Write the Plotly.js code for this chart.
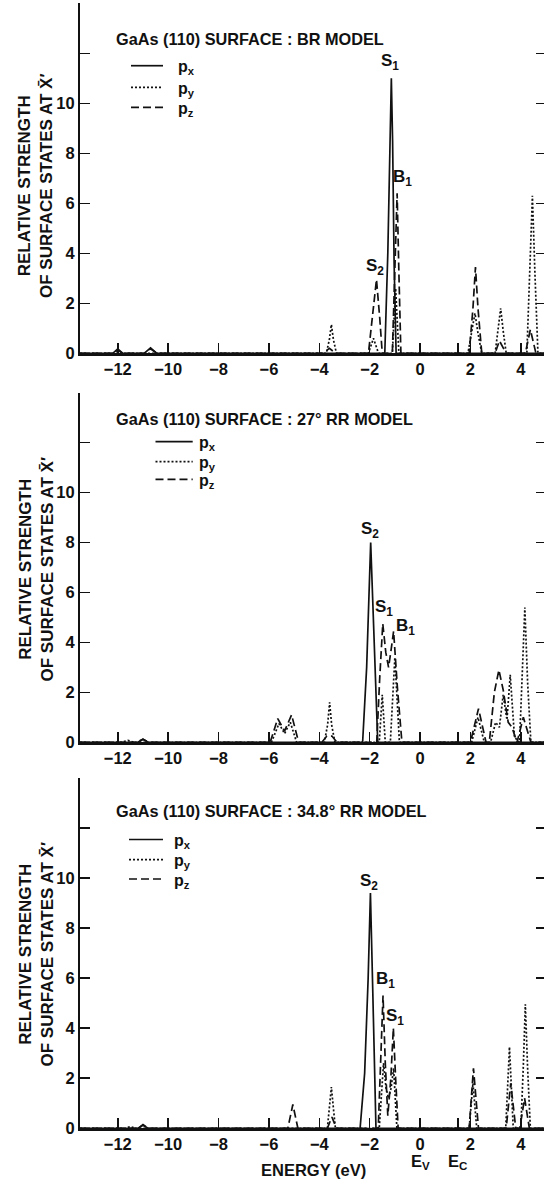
<!DOCTYPE html>
<html>
<head>
<meta charset="utf-8">
<script src="https://cdn.plot.ly/plotly-3.0.1.min.js"></script>
<style>
  html, body { margin: 0; padding: 0; overflow: hidden; background: #fff; }
</style>
</head>
<body>
<div id="chart"></div>
<script>
// Relative strength of GaAs (110) surface states at X-bar-prime,
// resolved into px / py / pz orbital contributions, for three surface models.

// ---- BR model ----
const brPxE = [-13.5, -12.2, -12.0, -11.8, -10.95, -10.7, -10.45, -1.4, -1.28, -1.2, -1.14, -1.09, -1.03, -0.95, 5.0];
const brPxV = [0, 0, 0.18, 0, 0, 0.22, 0, 0, 4.0, 8.6, 11.0, 8.5, 3.6, 0, 0];
const brPyE = [-13.5, -3.72, -3.6, -3.52, -3.44, -3.32, -2.05, -1.85, -1.65, -1.1, -1.03, -0.97, -0.91, -0.84,
               1.9, 2.05, 2.18, 2.3, 2.45, 2.98, 3.1, 3.2, 3.3, 3.42, 4.24, 4.36, 4.46, 4.56, 4.68, 5.0];
const brPyV = [0, 0, 0.55, 1.15, 0.55, 0, 0, 0.6, 0, 0, 1.4, 2.6, 1.4, 0,
               0, 0.8, 1.6, 0.8, 0, 0, 0.9, 1.8, 0.9, 0, 0, 3.2, 6.3, 3.2, 0, 0];
const brPzE = [-13.5, -12.2, -12.0, -11.8, -10.95, -10.7, -10.45, -3.85, -3.6, -3.35, -2.05, -1.88, -1.73, -1.6, -1.5,
               -1.1, -1.0, -0.91, -0.84, -0.76, 1.95, 2.1, 2.2, 2.3, 2.45, 2.98, 3.15, 3.42, 4.18, 4.38, 4.6, 5.0];
const brPzV = [0, 0, 0.12, 0, 0, 0.18, 0, 0, 0.2, 0, 0, 1.6, 2.95, 1.4, 0,
               0, 3.5, 6.4, 3.2, 0, 0, 1.8, 3.45, 1.8, 0, 0, 0.5, 0, 0, 0.95, 0, 0];

// ---- 27 degree RR model ----
const rr27PxE = [-13.5, -11.2, -11.0, -10.8, -2.28, -2.12, -1.96, -1.84, -1.68, 5.0];
const rr27PxV = [0, 0, 0.12, 0, 0, 3.0, 8.0, 4.2, 0, 0];
const rr27PyE = [-13.5, -11.85, -11.6, -11.35, -5.9, -5.6, -5.38, -5.15, -4.9, -3.8, -3.67, -3.59, -3.51, -3.38,
                 -1.62, -1.5, -1.38, -1.18, -1.0, -0.82, 2.05, 2.3, 2.55, 2.8, 3.0, 3.15, 3.3, 3.45, 3.58, 3.75,
                 3.95, 4.05, 4.16, 4.27, 4.4, 5.0];
const rr27PyV = [0, 0, 0.08, 0, 0, 0.75, 0.35, 0.8, 0, 0, 0.7, 1.6, 0.7, 0,
                 0, 1.9, 0, 0, 3.4, 0, 0, 1.0, 0, 0, 0.8, 0.6, 1.9, 0.9, 2.7, 0.2,
                 0, 2.6, 5.4, 2.4, 0, 0];
const rr27PzE = [-13.5, -11.25, -11.0, -10.75, -5.95, -5.65, -5.38, -5.1, -4.82, -3.9, -3.7, -3.5, -3.3,
                 -1.72, -1.6, -1.48, -1.36, -1.25, -1.15, -1.05, -0.9, -0.72, 2.0, 2.32, 2.62, 2.75, 2.95, 3.13,
                 3.3, 3.5, 3.65, 3.85, 4.1, 4.4, 5.0];
const rr27PzV = [0, 0, 0.12, 0, 0, 0.95, 0.45, 1.1, 0, 0, 0.25, 0.25, 0,
                 0, 2.6, 4.75, 3.6, 3.0, 3.7, 4.45, 2.2, 0, 0, 1.35, 0, 0, 2.0, 2.9,
                 2.1, 0.8, 0.6, 0, 1.0, 0, 0];

// ---- 34.8 degree RR model ----
const rr35PxE = [-13.5, -11.2, -11.0, -10.8, -2.38, -2.2, -2.06, -1.97, -1.88, -1.75, 5.0];
const rr35PxV = [0, 0, 0.12, 0, 0, 2.2, 6.0, 9.4, 5.6, 0, 0];
const rr35PyE = [-13.5, -11.7, -11.5, -11.3, -3.68, -3.6, -3.52, -3.44, -3.36, -1.62, -1.45, -1.35, -1.25, -1.15,
                 -1.05, -0.92, 1.95, 2.1, 2.25, 3.4, 3.55, 3.7, 4.0, 4.1, 4.18, 4.27, 4.38, 5.0];
const rr35PyV = [0, 0, 0.07, 0, 0, 0.8, 1.65, 0.8, 0, 0, 2.6, 1.6, 1.2, 1.6,
                 2.4, 0, 0, 1.8, 0, 0, 3.25, 0, 0, 2.5, 4.95, 2.4, 0, 0];
const rr35PzE = [-13.5, -11.2, -11.0, -10.8, -5.25, -5.05, -4.85, -3.68, -3.5, -3.32, -1.66, -1.56, -1.47, -1.38,
                 -1.28, -1.16, -1.06, -0.97, -0.87, 1.95, 2.12, 2.32, 3.42, 3.6, 3.8, 3.96, 4.15, 4.34, 5.0];
const rr35PzV = [0, 0, 0.15, 0, 0, 0.95, 0, 0, 0.45, 0, 0, 2.6, 5.3, 2.6,
                 0.5, 2.0, 4.0, 2.0, 0, 0, 2.4, 0, 0, 1.8, 0, 0, 1.2, 0, 0];

// Axis ticks and labels
const energyTicks = [-12, -10, -8, -6, -4, -2, 0, 2, 4];
const valenceTop = 0;       // E_V
const conductionEdge = 1.5; // E_C
const strengthTicks = [0, 2, 4, 6, 8, 10, 12];
const strengthLabels = ['0', '2', '4', '6', '8', '10', ''];
const panelTitles = [
  'GaAs (110) SURFACE : BR MODEL',
  'GaAs (110) SURFACE : 27° RR MODEL',
  'GaAs (110) SURFACE : 34.8° RR MODEL'
];
const orbitalNames = ['p<sub>x</sub>', 'p<sub>y</sub>', 'p<sub>z</sub>'];

const INK = '#111';
const FONT = 'Liberation Sans, Arial, sans-serif';
const W = 546, H = 1179, ML = 80;
const px2x = p => (p - ML) / (W - ML);
const px2y = p => 1 - p / H;

const panels = [
  { e: [brPxE, brPyE, brPzE], v: [brPxV, brPyV, brPzV], top: 3.3, bottom: 353.3 },
  { e: [rr27PxE, rr27PyE, rr27PzE], v: [rr27PxV, rr27PyV, rr27PzV], top: 392.7, bottom: 742.3 },
  { e: [rr35PxE, rr35PyE, rr35PzE], v: [rr35PxV, rr35PyV, rr35PzV], top: 777.7, bottom: 1128.3 }
];
const dashes = ['solid', '2px,2px', '8px,4px'];

// Key for each panel: sample line span, label start and row centres (pixels)
const keys = [
  { x0: 131, x1: 163, tx: 176, rows: [65.7, 87.3, 107.3] },
  { x0: 155.5, x1: 192.7, tx: 197, rows: [441.7, 461.7, 479.3] },
  { x0: 129, x1: 163, tx: 172, rows: [839.5, 859.7, 879] }
];

const traces = [];
panels.forEach((p, i) => {
  const n = i === 0 ? '' : String(i + 1);
  for (let k = 0; k < 3; k++) {
    traces.push({
      type: 'scatter', mode: 'lines',
      x: p.e[k], y: p.v[k],
      xaxis: 'x' + n, yaxis: 'y' + n,
      name: orbitalNames[k], showlegend: false,
      line: { color: INK, width: 1.7, dash: dashes[k] },
      hoverinfo: 'skip'
    });
  }
});

const tickFont = { family: FONT, size: 16.5, color: INK, weight: 'bold' };
const labelFont = size => ({ family: FONT, size, color: INK, weight: 'bold' });
const energyLabel = t => (t < 0 ? '\u2212' + Math.abs(t) : String(t));

const layout = {
  width: W, height: H,
  margin: { l: ML, r: 0, t: 0, b: 0 },
  paper_bgcolor: '#fff', plot_bgcolor: '#fff',
  font: { family: FONT, color: INK, size: 16 },
  showlegend: false,
  annotations: [], shapes: []
};

panels.forEach((p, i) => {
  const n = i === 0 ? '' : String(i + 1);
  const topId = String(i + 4);
  layout['xaxis' + n] = {
    anchor: 'y' + n, range: [-13.5, 5.0],
    tickvals: energyTicks.concat([conductionEdge]),
    ticktext: energyTicks.map(energyLabel).concat(['']),
    ticks: 'inside', ticklen: 10, tickwidth: 1.5, tickcolor: INK,
    showline: true, linewidth: 2.2, linecolor: INK,
    showgrid: false, zeroline: false, tickfont: tickFont
  };
  layout['xaxis' + topId] = {
    overlaying: 'x' + n, anchor: 'y' + n, side: 'top', range: [-13.5, 5.0],
    tickvals: energyTicks, ticks: 'inside', ticklen: 10, tickwidth: 1.5, tickcolor: INK,
    showticklabels: false, showline: true, linewidth: 2, linecolor: INK,
    showgrid: false, zeroline: false
  };
  layout['yaxis' + n] = {
    anchor: 'x' + n, domain: [px2y(p.bottom), px2y(p.top)], range: [0, 14],
    tickvals: strengthTicks, ticktext: strengthLabels,
    ticks: 'inside', ticklen: 10, tickwidth: 1.5, tickcolor: INK, mirror: 'ticks',
    showline: true, linewidth: 2, linecolor: INK,
    showgrid: false, zeroline: false, tickfont: tickFont
  };

  // key: one sample line and label per orbital
  const key = keys[i];
  key.rows.forEach((ry, k) => {
    layout.shapes.push({
      type: 'line', xref: 'paper', yref: 'paper',
      x0: px2x(key.x0), x1: px2x(key.x1), y0: px2y(ry), y1: px2y(ry),
      line: { color: INK, width: 1.7, dash: dashes[k] }
    });
    layout.annotations.push({
      text: orbitalNames[k], xref: 'paper', yref: 'paper',
      x: px2x(key.tx), y: px2y(ry + 2), xanchor: 'left', yanchor: 'middle',
      showarrow: false, font: labelFont(16)
    });
  });
});

// Panel titles
const titleLevels = [12.57, 12.93, 12.69];
panelTitles.forEach((t, i) => {
  const n = i === 0 ? '' : String(i + 1);
  layout.annotations.push({
    text: t, xref: 'x' + n, yref: 'y' + n, x: -12.14, y: titleLevels[i],
    xanchor: 'left', yanchor: 'middle', showarrow: false,
    font: labelFont(16.3)
  });
});

// Peak labels
const peakLabels = [
  [['S<sub>1</sub>', -1.18, 11.65], ['B<sub>1</sub>', -0.69, 7.0], ['S<sub>2</sub>', -1.77, 3.46]],
  [['S<sub>2</sub>', -2.0, 8.49], ['S<sub>1</sub>', -1.45, 5.36], ['B<sub>1</sub>', -0.56, 4.62]],
  [['S<sub>2</sub>', -2.04, 9.83], ['B<sub>1</sub>', -1.39, 5.94], ['S<sub>1</sub>', -1.0, 4.46]]
];
peakLabels.forEach((list, i) => {
  const n = i === 0 ? '' : String(i + 1);
  list.forEach(([t, x, y]) => {
    layout.annotations.push({
      text: t, xref: 'x' + n, yref: 'y' + n, x, y, showarrow: false,
      font: labelFont(17)
    });
  });
});

// Vertical axis titles
[186.5, 570, 955].forEach(cy => {
  layout.annotations.push({
    text: 'RELATIVE STRENGTH<br>OF SURFACE STATES AT X\u0304\u2032',
    xref: 'paper', yref: 'paper', x: px2x(35.5), y: px2y(cy),
    xanchor: 'center', yanchor: 'middle', textangle: -90, showarrow: false,
    font: labelFont(17)
  });
});

// Energy axis title and band-edge markers
layout.annotations.push({
  text: 'ENERGY (eV)', xref: 'paper', yref: 'paper', x: px2x(313), y: px2y(1169.5),
  xanchor: 'center', yanchor: 'middle', showarrow: false,
  font: labelFont(16.5)
});
[['E<sub>V</sub>', valenceTop], ['E<sub>C</sub>', conductionEdge]].forEach(([t, e]) => {
  layout.annotations.push({
    text: t, xref: 'x3', yref: 'paper', x: e, y: px2y(1162),
    xanchor: 'center', yanchor: 'middle', showarrow: false,
    font: labelFont(16.5)
  });
});

Plotly.newPlot('chart', traces, layout, { staticPlot: true, displayModeBar: false });
</script>
</body>
</html>
